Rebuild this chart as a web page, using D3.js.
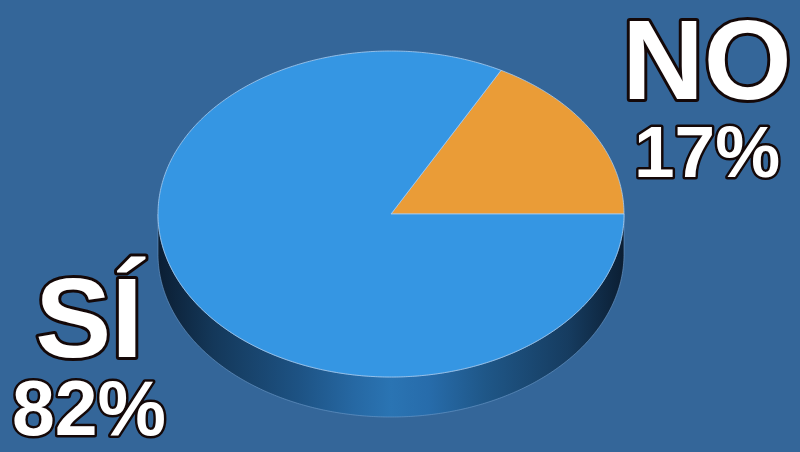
<!DOCTYPE html>
<html>
<head>
<meta charset="utf-8">
<script src="https://cdn.jsdelivr.net/npm/d3@7"></script>
<style>
  html, body { margin: 0; padding: 0; background: #346699; }
  svg { display: block; }
  .lbl { font-family: "Liberation Sans", Arial, Helvetica, sans-serif; font-weight: bold;
         fill: #fff; stroke: #140808; stroke-linejoin: round; paint-order: stroke; }
</style>
</head>
<body>
<div id="chart"></div>
<script>
// data
var answers = ["NO", "SÍ"];
var shares = [17, 82];
var sliceColors = ["#EA9C37", "#3596E3"];

var width = 800, height = 452;
var cx = 391, cy = 214, rx = 233, ry = 163, depth = 40;

var svg = d3.select("#chart").append("svg")
  .attr("width", width)
  .attr("height", height);

svg.append("rect").attr("width", width).attr("height", height).attr("fill", "#346699");

var defs = svg.append("defs");
var grad = defs.append("linearGradient")
  .attr("id", "side")
  .attr("gradientUnits", "userSpaceOnUse")
  .attr("x1", cx - rx).attr("x2", cx + rx).attr("y1", 0).attr("y2", 0);
[[0, "#0b1e33"], [0.12, "#14385a"], [0.3, "#1d5283"], [0.42, "#2668a3"], [0.5, "#2a74b3"],
 [0.58, "#276cab"], [0.7, "#1f5788"], [0.88, "#163c60"], [1, "#0b1e33"]].forEach(function(s){
  grad.append("stop").attr("offset", s[0]).attr("stop-color", s[1]);
});

// pie angles, turned into ellipse angles counter-clockwise from east
var pie = d3.pie().sort(null).value(function(d){ return d; });
var arcs = pie(shares);

var angle = d3.scaleLinear().domain([0, 2 * Math.PI]).range([0, 2 * Math.PI]);

function pt(t, dy){
  return [cx + rx * Math.cos(t), cy - ry * Math.sin(t) + (dy || 0)];
}

function ring(t0, t1, dy){
  var n = Math.max(2, Math.ceil(Math.abs(t1 - t0) / 0.01));
  return d3.range(n + 1).map(function(i){ return pt(t0 + (t1 - t0) * i / n, dy); });
}

var line = d3.line();

// side walls (front half only)
arcs.forEach(function(a, i){
  var t0 = angle(a.startAngle), t1 = angle(a.endAngle);
  var s = Math.max(t0, Math.PI), e = Math.min(t1, 2 * Math.PI);
  if (e <= s) return;
  var pts = ring(s, e, 0).concat(ring(e, s, depth));
  svg.append("path")
    .attr("d", line(pts) + "Z")
    .attr("fill", "url(#side)")
    .attr("stroke", "#6f9ccb")
    .attr("stroke-width", 0.6);
});

// top faces
arcs.forEach(function(a, i){
  var t0 = angle(a.startAngle), t1 = angle(a.endAngle);
  var pts = [[cx, cy]].concat(ring(t0, t1, 0));
  svg.append("path")
    .attr("d", line(pts) + "Z")
    .attr("fill", sliceColors[i])
    .attr("stroke", "#a9cdf0")
    .attr("stroke-width", 0.8)
    .attr("stroke-linejoin", "round");
});

// labels
var labels = [
  { name: answers[0], pct: shares[0], x: 707, y1: 99, y2: 177, s1: 113, s2: 73 },
  { name: answers[1], pct: shares[1], x: 89, y1: 357, y2: 435, s1: 114, s2: 77 }
];

labels.forEach(function(d){
  svg.append("text").attr("class", "lbl")
    .attr("x", d.x).attr("y", d.y1)
    .attr("text-anchor", "middle")
    .style("font-size", d.s1 + "px")
    .style("stroke-width", 6)
    .text(d.name);
  svg.append("text").attr("class", "lbl")
    .attr("x", d.x).attr("y", d.y2)
    .attr("text-anchor", "middle")
    .style("font-size", d.s2 + "px")
    .style("stroke-width", 5)
    .text(d.pct + "%");
});
</script>
</body>
</html>
